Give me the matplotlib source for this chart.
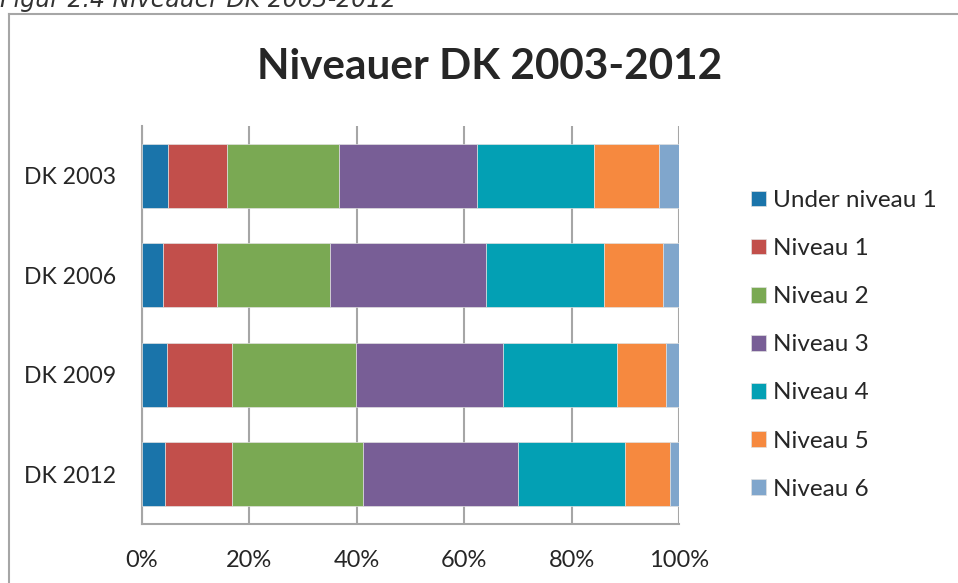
import matplotlib
matplotlib.use("Agg")
import matplotlib.pyplot as plt
from matplotlib.lines import Line2D
import numpy as np

plt.rcParams['font.family'] = ['Lato', 'DejaVu Sans']

categories = ["DK 2003", "DK 2006", "DK 2009", "DK 2012"]
series_names = ["Under niveau 1", "Niveau 1", "Niveau 2", "Niveau 3",
                "Niveau 4", "Niveau 5", "Niveau 6"]
under1 = [4.9, 3.9, 4.7, 4.3]
niv1 = [10.9, 10.0, 12.1, 12.5]
niv2 = [20.9, 21.1, 23.1, 24.4]
niv3 = [25.7, 29.0, 27.4, 28.9]
niv4 = [21.8, 22.0, 21.1, 19.9]
niv5 = [12.0, 11.1, 9.1, 8.3]
niv6 = [3.9, 3.0, 2.5, 1.7]
series_values = [under1, niv1, niv2, niv3, niv4, niv5, niv6]
colors = ["#1A74AA", "#C24F4B", "#7AA953", "#785E96", "#03A0B4", "#F6893F", "#80A6CC"]
x_ticks = [0, 20, 40, 60, 80, 100]
x_tick_labels = ["0%", "20%", "40%", "60%", "80%", "100%"]
title = "Niveauer DK 2003-2012"
caption = "Figur 2.4 Niveauer DK 2003-2012"

W, H = 958, 583
fig = plt.figure(figsize=(W / 100, H / 100), dpi=100)
fig.patch.set_facecolor("white")

# outer frame (left and top edges visible)
fig.add_artist(Line2D([9 / W, 9 / W], [0, 1 - 14 / H], transform=fig.transFigure,
                      color="#A6A6A6", lw=1.5))
fig.add_artist(Line2D([9 / W, 1], [1 - 14 / H, 1 - 14 / H], transform=fig.transFigure,
                      color="#A6A6A6", lw=1.5))

# caption cut at top
fig.text(0, 1 - 7 / H, caption, ha="left", va="baseline", fontsize=17,
         style="italic", family="DejaVu Sans", color="#333333")

left, right, top, bottom = 142, 679, 126, 524
ax = fig.add_axes([left / W, 1 - bottom / H, (right - left) / W, (bottom - top) / H])

y = np.arange(len(categories))
cum = np.zeros(len(categories))
for name, vals, c in zip(series_names, series_values, colors):
    vals = np.array(vals)
    ax.barh(y, vals, left=cum, height=0.645, color=c, label=name,
            edgecolor="#E0E0E0", linewidth=0.5, zorder=3)
    cum += vals

ax.set_xlim(0, 100)
ax.set_ylim(len(categories) - 0.5, -0.5)
ax.set_xticks(x_ticks)
ax.set_xticklabels(x_tick_labels)
ax.set_yticks(y)
ax.set_yticklabels(categories)
ax.tick_params(axis="both", length=0, colors="#262626")
ax.tick_params(axis="x", pad=18.4, labelsize=17)
ax.tick_params(axis="y", pad=18.7, labelsize=16.6)
ax.grid(axis="x", color="#A6A6A6", lw=1.5, zorder=0)
for s in ["top", "right"]:
    ax.spines[s].set_visible(False)
for s in ["left", "bottom"]:
    ax.spines[s].set_color("#A6A6A6")
    ax.spines[s].set_linewidth(1.5)

fig.text(490 / W, 1 - 67 / H, title, ha="center", va="center", fontsize=30.4,
         fontweight="bold", color="#262626")

leg = ax.legend(loc="upper left", bbox_to_anchor=(751 / W, 1 - 190 / H),
                bbox_transform=fig.transFigure, frameon=False, fontsize=17.5,
                handlelength=0.62, handleheight=0.62, handletextpad=0.29,
                labelspacing=1.115, borderpad=0, borderaxespad=0)
for t in leg.get_texts():
    t.set_color("#262626")

fig.savefig("out.png", dpi=100)
